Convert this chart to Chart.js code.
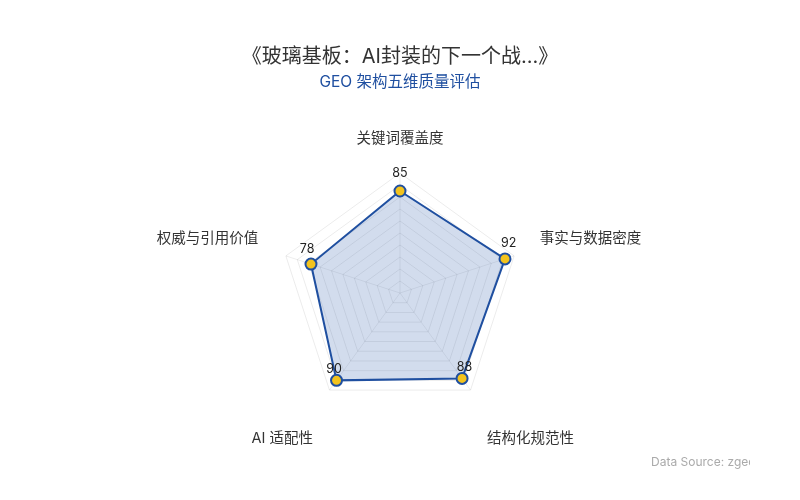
<!DOCTYPE html>
<html>
<head>
<meta charset="utf-8">
<script src="https://cdn.jsdelivr.net/npm/chart.js@4"></script>
<style>
  html, body { margin: 0; padding: 0; background: #fff; }
  #wrap { position: relative; width: 800px; height: 500px; }
  #source {
    position: absolute; left: 651px; top: 454px; width: 99px;
    overflow: hidden; white-space: nowrap;
    font: 12px "Inter", "Noto Sans", sans-serif; color: #aaa;
  }
</style>
</head>
<body>
<div id="wrap">
  <canvas id="chart" width="800" height="500"></canvas>
  <div id="source">Data Source: zgeo.ai</div>
</div>
<script>
const titleText = '《玻璃基板：AI封装的下一个战...》';
const subtitleText = 'GEO 架构五维质量评估';
const categories = ['关键词覆盖度', '事实与数据密度', '结构化规范性', 'AI 适配性', '权威与引用价值'];
const scores = [85, 92, 88, 90, 78];

const fontFamily = '"Inter", "Noto Sans CJK SC", sans-serif';
// gap between the outer ring and each axis name
const labelGaps = [26, 27, 28, 28, 29];
// the two lower axis names sit one line lower
const axisLabels = categories.map((c, i) => (i === 2 || i === 3) ? ['', c] : c);

// value labels drawn above each point
const valueLabels = {
  id: 'valueLabels',
  afterDatasetsDraw(chart) {
    const ctx = chart.ctx;
    const scale = chart.scales.r;
    const meta = chart.getDatasetMeta(0);
    ctx.save();
    ctx.font = '12.5px ' + fontFamily;
    ctx.fillStyle = '#222';
    ctx.textAlign = 'center';
    ctx.textBaseline = 'middle';
    meta.data.forEach((pt, i) => {
      const dx = pt.x - scale.xCenter;
      const dy = scale.yCenter - pt.y;
      const len = Math.hypot(dx, dy) || 1;
      const ux = dx / len, uy = dy / len;
      ctx.fillText(String(scores[i]), pt.x + 4 * ux, pt.y - (14 + 4 * uy));
    });
    ctx.restore();
  }
};

new Chart(document.getElementById('chart'), {
  type: 'radar',
  data: {
    labels: axisLabels,
    datasets: [{
      data: scores,
      backgroundColor: 'rgba(30, 80, 165, 0.2)',
      borderColor: '#1f4fa0',
      borderWidth: 2,
      pointBackgroundColor: '#f3c31d',
      pointBorderColor: '#1f4fa0',
      pointBorderWidth: 2,
      pointRadius: 5.5
    }]
  },
  options: {
    responsive: false,
    animation: false,
    layout: { padding: { top: 0, bottom: 48, left: 0, right: 0 } },
    scales: {
      r: {
        min: 0,
        max: 100,
        ticks: { display: false, stepSize: 10 },
        grid: { color: 'rgba(0, 0, 0, 0.08)' },
        angleLines: { color: 'rgba(0, 0, 0, 0.07)' },
        pointLabels: {
          padding: (ctx) => labelGaps[ctx.index],
          color: '#333',
          font: { size: 14.5, family: fontFamily }
        }
      }
    },
    plugins: {
      legend: { display: false },
      tooltip: { enabled: false },
      title: {
        display: true,
        text: titleText,
        color: '#333',
        font: { size: 20, weight: 'normal', family: fontFamily },
        padding: { top: 45, bottom: 4 }
      },
      subtitle: {
        display: true,
        text: subtitleText,
        color: '#1f4fa0',
        font: { size: 15.5, family: fontFamily },
        padding: { bottom: 33 }
      }
    }
  },
  plugins: [valueLabels]
});
</script>
</body>
</html>
